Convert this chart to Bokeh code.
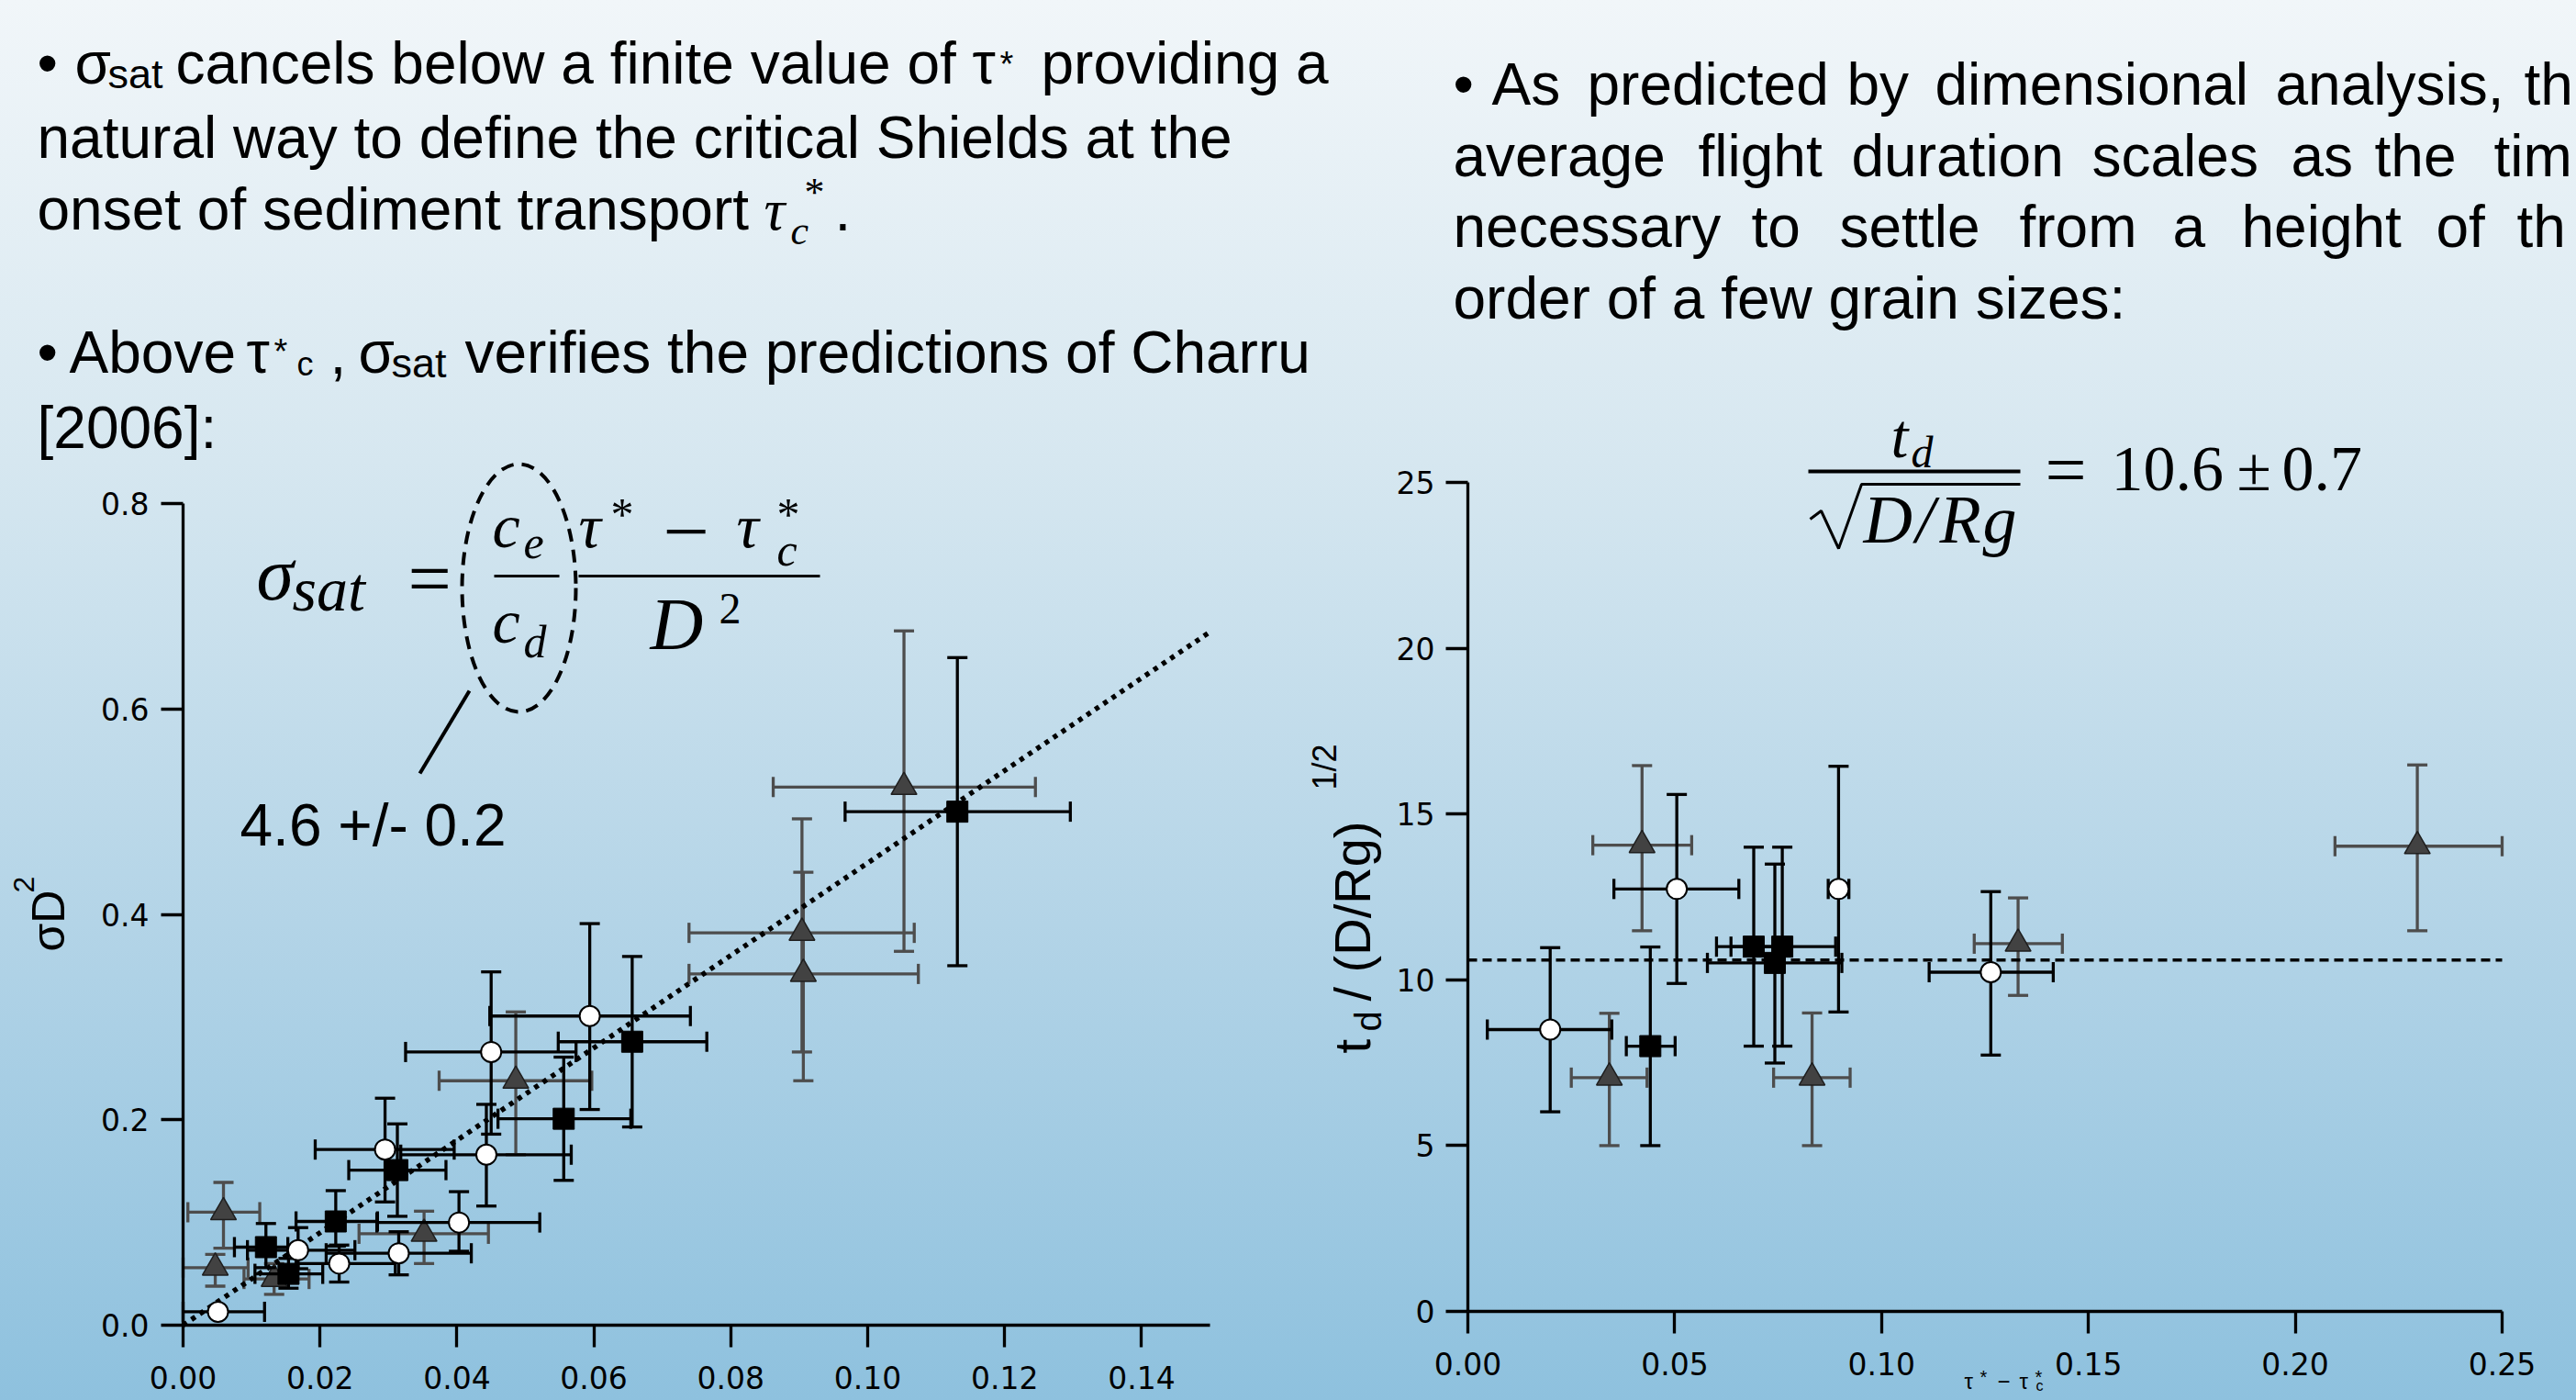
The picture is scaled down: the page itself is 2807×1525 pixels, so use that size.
import math
from bokeh.plotting import figure
from bokeh.models import (Range1d, LinearAxis, FixedTicker, NumeralTickFormatter, Label,
                          ColumnDataSource, GlobalInlineStyleSheet)
from bokeh.embed import file_html
from bokeh.resources import INLINE

# ---------------- data : left panel  (sigma D^2 vs tau* - tau*_c) ----------------
L_sq_x   = [0.1131, 0.0656, 0.0556, 0.0313, 0.0223, 0.0121, 0.0154]
L_sq_y   = [0.500, 0.276, 0.201, 0.151, 0.101, 0.076, 0.050]
L_sq_xlo = [0.0967, 0.0548, 0.0460, 0.0242, 0.0165, 0.0075, 0.0105]
L_sq_xhi = [0.1296, 0.0765, 0.0654, 0.0384, 0.0284, 0.0153, 0.0204]
L_sq_ylo = [0.350, 0.193, 0.141, 0.106, 0.077, 0.056, 0.036]
L_sq_yhi = [0.650, 0.359, 0.261, 0.196, 0.131, 0.099, 0.065]

L_ci_x   = [0.0594, 0.0450, 0.0443, 0.0295, 0.0403, 0.0315, 0.0228, 0.0168, 0.0051]
L_ci_y   = [0.301, 0.266, 0.166, 0.171, 0.100, 0.070, 0.060, 0.073, 0.013]
L_ci_xlo = [0.0448, 0.0325, 0.0318, 0.0193, 0.0283, 0.0209, 0.0165, 0.0094, 0.0000]
L_ci_xhi = [0.0741, 0.0574, 0.0567, 0.0396, 0.0521, 0.0421, 0.0310, 0.0251, 0.0119]
L_ci_ylo = [0.210, 0.186, 0.116, 0.120, 0.072, 0.049, 0.042, 0.055, 0.013]
L_ci_yhi = [0.391, 0.344, 0.215, 0.221, 0.130, 0.091, 0.078, 0.095, 0.013]

L_tr_x   = [0.1053, 0.0904, 0.0906, 0.0486, 0.0352, 0.0059, 0.0047, 0.0133]
L_tr_y   = [0.524, 0.382, 0.342, 0.238, 0.089, 0.110, 0.056, 0.045]
L_tr_xlo = [0.0862, 0.0739, 0.0739, 0.0374, 0.0257, 0.0007, 0.0000, 0.0089]
L_tr_xhi = [0.1245, 0.1068, 0.1074, 0.0597, 0.0446, 0.0112, 0.0095, 0.0184]
L_tr_ylo = [0.364, 0.266, 0.238, 0.166, 0.060, 0.075, 0.038, 0.030]
L_tr_yhi = [0.676, 0.493, 0.441, 0.305, 0.111, 0.139, 0.069, 0.060]

L_fit_x = [0.0, 0.15]
L_fit_y = [0.0, 0.675]

L_xticks = [0.0, 0.02, 0.04, 0.06, 0.08, 0.10, 0.12, 0.14]
L_yticks = [0.0, 0.2, 0.4, 0.6, 0.8]

# ---------------- data : right panel  (t_d/(D/Rg)^1/2 vs tau* - tau*_c) ----------------
R_sq_x   = [0.0441, 0.0691, 0.0760, 0.0742]
R_sq_y   = [8.00, 11.00, 11.00, 10.51]
R_sq_xlo = [0.0383, 0.0601, 0.0636, 0.0579]
R_sq_xhi = [0.0501, 0.0781, 0.0889, 0.0904]
R_sq_ylo = [5.00, 8.00, 8.00, 7.49]
R_sq_yhi = [10.99, 14.00, 14.00, 13.49]

R_ci_x   = [0.0199, 0.0505, 0.0896, 0.1264]
R_ci_y   = [8.50, 12.74, 12.74, 10.23]
R_ci_xlo = [0.0047, 0.0353, 0.0871, 0.1115]
R_ci_xhi = [0.0348, 0.0655, 0.0921, 0.1415]
R_ci_ylo = [6.02, 9.89, 9.03, 7.73]
R_ci_yhi = [10.97, 15.59, 16.44, 12.66]

R_tr_x   = [0.0421, 0.0342, 0.0832, 0.1330, 0.2295]
R_tr_y   = [14.06, 7.05, 7.05, 11.09, 14.03]
R_tr_xlo = [0.0302, 0.0250, 0.0739, 0.1224, 0.2096]
R_tr_xhi = [0.0541, 0.0433, 0.0924, 0.1437, 0.2500]
R_tr_ylo = [11.48, 5.00, 5.00, 9.53, 11.48]
R_tr_yhi = [16.46, 8.99, 9.00, 12.47, 16.48]

R_mean_x = [0.0, 0.25]
R_mean_y = [10.6, 10.6]

R_xticks = [0.0, 0.05, 0.10, 0.15, 0.20, 0.25]
R_yticks = [0, 5, 10, 15, 20, 25]

# ---------------- canvas (page-pixel coordinates for decorations) ----------------
W, H = 2807, 1525
p = figure(width=W, height=H, output_backend="svg", toolbar_location=None,
           x_range=Range1d(0, W), y_range=Range1d(H, 0),
           x_axis_location=None, y_axis_location=None, min_border=0)
p.grid.visible = False
p.outline_line_color = None
p.background_fill_alpha = 0
p.border_fill_alpha = 0
p.stylesheets = [GlobalInlineStyleSheet(css=(
    "html{min-height:100%;background:linear-gradient(to bottom,#f1f6f9 0%,#d6e7f0 33%,"
    "#b3d4e7 66%,#8ec1de 100%) no-repeat;}body{background:transparent;}"))]


def span(v0, p0, v1, p1, lo, hi):
    k = (p1 - p0) / (v1 - v0)
    return Range1d(start=v0 + (lo - p0) / k, end=v0 + (hi - p0) / k)


# axis anchors in page pixels
p.extra_x_ranges = {"lx": span(0.0, 199, 0.15, 1318, 0, W),
                    "rx": span(0.0, 1599, 0.25, 2726, 0, W)}
p.extra_y_ranges = {"ly": span(0.0, 1443, 0.8, 548, H, 0),
                    "ry": span(0.0, 1428, 25.0, 525, H, 0)}


def add_axis(side, xr, yr, bounds, ticks, fmt, standoff):
    ax = LinearAxis(x_range_name=xr, y_range_name=yr, fixed_location=0, bounds=bounds,
                    ticker=FixedTicker(ticks=ticks, minor_ticks=[]),
                    formatter=NumeralTickFormatter(format=fmt))
    ax.axis_line_width = 3.3
    ax.axis_line_color = "black"
    ax.major_tick_out = 24
    ax.major_tick_in = 0
    ax.major_tick_line_width = 3.3
    ax.major_tick_line_color = "black"
    ax.minor_tick_out = 0
    ax.minor_tick_in = 0
    ax.major_label_text_font = "DejaVu Sans"
    ax.major_label_text_font_size = "33px"
    ax.major_label_text_color = "black"
    ax.major_label_standoff = standoff
    p.add_layout(ax, side)


add_axis("below", "lx", "ly", (0.0, 0.15), L_xticks, "0.00", 20)
add_axis("left", "lx", "ly", (0.0, 0.8), L_yticks, "0.0", 13)
add_axis("below", "rx", "ry", (0.0, 0.25), R_xticks, "0.00", 20)
add_axis("left", "rx", "ry", (0.0, 25.0), R_yticks, "0", 12)

LW = 3.3


def series(xr, yr, x, y, xlo, xhi, ylo, yhi, ecolor):
    src = ColumnDataSource(dict(x=x, y=y, xlo=xlo, xhi=xhi, ylo=ylo, yhi=yhi))
    kw = dict(source=src, x_range_name=xr, y_range_name=yr)
    p.segment(x0="xlo", y0="y", x1="xhi", y1="y", line_color=ecolor, line_width=LW, **kw)
    p.segment(x0="x", y0="ylo", x1="x", y1="yhi", line_color=ecolor, line_width=LW, **kw)
    for cx, cy, ang in (("xlo", "y", math.pi / 2), ("xhi", "y", math.pi / 2),
                        ("x", "ylo", 0.0), ("x", "yhi", 0.0)):
        p.scatter(x=cx, y=cy, marker="dash", size=22, angle=ang,
                  line_color=ecolor, line_width=LW, **kw)
    return kw


GRAY = "#4d4d4d"


def panel(xr, yr, tr, ci, sq, fit_x, fit_y, dash, dash_w):
    kw = series(xr, yr, *tr, GRAY)
    p.scatter(x="x", y="y", marker="triangle", size=28, fill_color="#424242",
              line_color="#1e1e1e", line_width=1.5, **kw)
    kw2 = series(xr, yr, *ci, "black")
    kw3 = series(xr, yr, *sq, "black")
    p.line(fit_x, fit_y, x_range_name=xr, y_range_name=yr, line_color="black",
           line_width=dash_w, line_dash=dash)
    p.scatter(x="x", y="y", marker="circle", size=22, fill_color="white",
              line_color="black", line_width=2, **kw2)
    p.scatter(x="x", y="y", marker="square", size=23, fill_color="black",
              line_color="black", line_width=1, **kw3)


panel("lx", "ly",
      (L_tr_x, L_tr_y, L_tr_xlo, L_tr_xhi, L_tr_ylo, L_tr_yhi),
      (L_ci_x, L_ci_y, L_ci_xlo, L_ci_xhi, L_ci_ylo, L_ci_yhi),
      (L_sq_x, L_sq_y, L_sq_xlo, L_sq_xhi, L_sq_ylo, L_sq_yhi),
      L_fit_x, L_fit_y, "5 6", 5.5)
panel("rx", "ry",
      (R_tr_x, R_tr_y, R_tr_xlo, R_tr_xhi, R_tr_ylo, R_tr_yhi),
      (R_ci_x, R_ci_y, R_ci_xlo, R_ci_xhi, R_ci_ylo, R_ci_yhi),
      (R_sq_x, R_sq_y, R_sq_xlo, R_sq_xhi, R_sq_ylo, R_sq_yhi),
      R_mean_x, R_mean_y, "10 6", 3.5)

# ---------------- text ----------------
SANS = "Liberation Sans"
SERIF = "Liberation Serif"
DROP = 0.3  # label baseline correction (em)


def T(x, y, s, size, font=SANS, style="normal", angle=0.0):
    if angle == 0.0:
        y = y - DROP * size
    else:
        x = x - DROP * size
    p.add_layout(Label(x=x, y=y, text=s, text_font=font, text_font_size=f"{size}px",
                       text_font_style=style, text_color="black", angle=angle,
                       text_align="left", text_baseline="alphabetic"))


B = 64
# left bullet text
T(40, 88, "•", B); T(81, 88, "σ", B); T(117, 93, "sat", 45)
T(191, 88, "cancels below a finite value of τ", B); T(1089, 81, "*", 38)
T(1134, 88, "providing a", B)
T(40, 169, "natural way to define the critical Shields at the", B)
T(40, 247, "onset of sediment transport", B)
T(832, 247, "τ", B, SERIF, "italic"); T(876, 222, "*", 44, SERIF)
T(861, 264, "c", 44, SERIF, "italic"); T(909, 247, ".", B)
T(40, 403, "•", B); T(75, 403, "Above", B); T(268, 403, "τ", B); T(298, 394, "*", 38)
T(323, 407, "c", 36); T(359, 403, ",", B); T(390, 403, "σ", B); T(426, 408, "sat", 45)
T(506, 403, "verifies the predictions of Charru", B)
T(40, 485, "[2006]:", B)

# right bullet text (justified, cut by the slide edge)
for y, words in [
    (111, [(1583, "•"), (1625, "As"), (1729, "predicted"), (2012, "by"), (2108, "dimensional"),
           (2479, "analysis,"), (2750, "th")]),
    (189, [(1583, "average"), (1850, "flight"), (2017, "duration"), (2279, "scales"),
           (2496, "as"), (2587, "the"), (2717, "tim")]),
    (266, [(1583, "necessary"), (1908, "to"), (2004, "settle"), (2200, "from"), (2367, "a"),
           (2442, "height"), (2654, "of"), (2742, "th")]),
    (344, [(1583, "order of a few grain sizes:")]),
]:
    for x, w in words:
        T(x, y, w, B)

# left equation
T(279, 650, "σ", 82, SERIF, "italic"); T(318, 662, "sat", 68, SERIF, "italic")
T(444, 655, "=", 84, SERIF)
T(536, 593, "c", 68, SERIF, "italic"); T(570, 606, "e", 50, SERIF, "italic")
T(536, 697, "c", 68, SERIF, "italic"); T(570, 713, "d", 50, SERIF, "italic")
T(630, 593, "τ", 68, SERIF, "italic"); T(665, 574, "*", 50, SERIF)
T(722, 605, "−", 90, SERIF)
T(802, 593, "τ", 68, SERIF, "italic"); T(846, 574, "*", 50, SERIF); T(846, 613, "c", 50, SERIF, "italic")
T(708, 703, "D", 80, SERIF, "italic"); T(783, 677, "2", 48, SERIF)
p.segment(x0=[538, 630], y0=[627, 627], x1=[609, 893], y1=[627, 627], line_color="black", line_width=3)
p.ellipse(x=[565], y=[640], width=124, height=270, fill_color=None, line_color="black",
          line_width=4, line_dash="14 9")
p.segment(x0=[511], y0=[752], x1=[457], y1=[842], line_color="black", line_width=4)
T(261, 918, "4.6 +/- 0.2", 64)

# right equation
T(2060, 495, "t", 68, SERIF, "italic"); T(2082, 506, "d", 48, SERIF, "italic")
p.segment(x0=[1970], y0=[513], x1=[2201], y1=[513], line_color="black", line_width=4)
p.line([1972, 1984, 2003, 2028, 2201], [565, 556, 597, 527, 527], line_color="black", line_width=3)
T(2030, 588, "D", 74, SERIF, "italic"); T(2087, 588, "/", 74, SERIF, "italic")
T(2113, 588, "R", 74, SERIF, "italic"); T(2160, 588, "g", 74, SERIF, "italic")
T(2228, 535, "=", 80, SERIF)
T(2300, 531, "10.6", 70, SERIF); T(2437, 531, "±", 68, SERIF); T(2486, 531, "0.7", 70, SERIF)

# axis titles
R90 = math.pi / 2
T(67, 1036, "σD", 50, angle=R90); T(35, 972, "2", 32, angle=R90)
T(1490, 1147, "t", 56, angle=R90); T(1502, 1123, "d", 40, angle=R90)
T(1490, 1090, "/ (D/Rg)", 56, angle=R90); T(1454, 860, "1/2", 36, angle=R90)
T(2140, 1511, "τ", 24); T(2157, 1505, "*", 20); T(2176, 1511, "−", 24)
T(2200, 1511, "τ", 24); T(2217, 1505, "*", 20); T(2218, 1514, "c", 16)

open("out.html", "w").write(file_html(p, INLINE))
